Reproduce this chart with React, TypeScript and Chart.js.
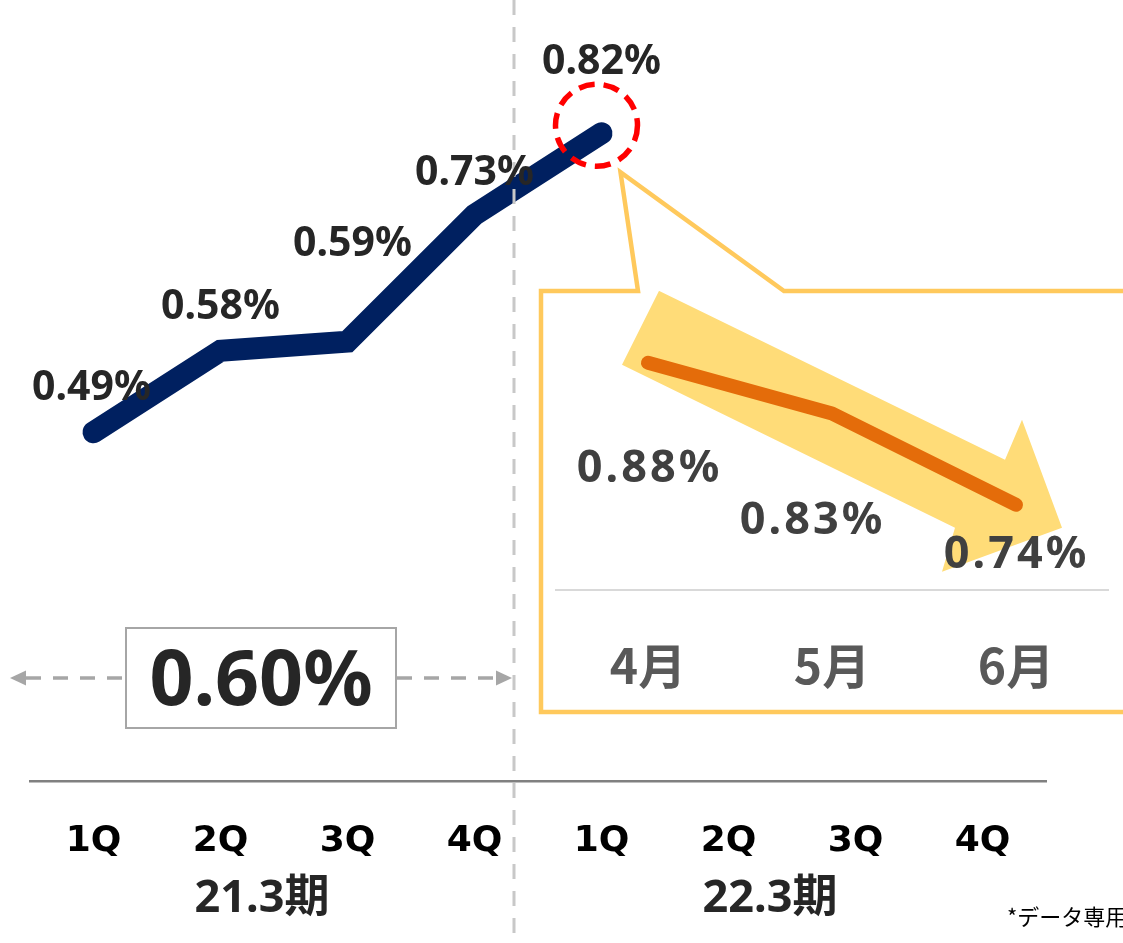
import React, { useEffect, useRef } from "react";
import { Chart, registerables } from "chart.js";

Chart.register(...registerables);

// ---- data ----
const quarterLabels = ["1Q", "2Q", "3Q", "4Q", "1Q", "2Q", "3Q", "4Q"];
const periodLabels = ["21.3期", "22.3期"];
const quarterlyRates: (number | null)[] = [0.49, 0.58, 0.59, 0.73, 0.82, null, null, null];
const averageRate = 0.6;
const monthLabels = ["4月", "5月", "6月"];
const monthlyRates = [0.88, 0.83, 0.74];
const footnote = "*データ専用";

// ---- styling / layout ----
const W = 1123;
const H = 943;
const NAVY = "#002060";
const ORANGE = "#E46C0A";
const CALLOUT = "#FFC95C";
const ARROW_FILL = "#FFDC78";
const MAIN_FONT = "'Noto Sans', 'Noto Sans CJK JP', sans-serif";
const CJK_FONT = "'Noto Sans CJK JP', 'Noto Sans', sans-serif";
const mainLabelOffsets = [
  [-2, -47],
  [0, -46],
  [5, -100],
  [0, -44],
  [0, -74],
];
const insetLabelOffsets = [
  [0, 103],
  [-21, 104],
  [-1, 47],
];
const INSET_BOX = { left: 541, top: 291, width: 582, height: 421 };
const DIVIDER_X = 514;
const AVG_BOX = { x1: 126, y1: 628, x2: 396, y2: 728 };

const fmt = (v: number) => v.toFixed(2) + "%";

function textCentered(ctx: CanvasRenderingContext2D, text: string, cx: number, cy: number, size: number, capRatio = 0.714) {
  ctx.textAlign = "center";
  ctx.textBaseline = "alphabetic";
  ctx.fillText(text, cx, cy + size * capRatio / 2);
}

const mainDecor = {
  id: "mainDecor",
  afterDatasetsDraw(chart: any) {
    const ctx: CanvasRenderingContext2D = chart.ctx;
    const xs = chart.scales.x;
    const ys = chart.scales.y;
    ctx.save();

    // vertical divider between periods
    ctx.strokeStyle = "#C8C8C8";
    ctx.lineWidth = 3;
    ctx.setLineDash([15, 12]);
    ctx.beginPath();
    ctx.moveTo(DIVIDER_X, 0);
    ctx.lineTo(DIVIDER_X, H);
    ctx.stroke();

    // red dashed circle around last value
    const lastIdx = quarterlyRates.reduce((a: number, v, i) => (v != null ? i : a), 0);
    const lx = xs.getPixelForValue(lastIdx);
    const ly = ys.getPixelForValue(quarterlyRates[lastIdx] as number);
    ctx.strokeStyle = "#FF0000";
    ctx.lineWidth = 5.5;
    ctx.setLineDash([16, 9]);
    ctx.beginPath();
    ctx.arc(lx - 5, ly - 8, 41, 0, Math.PI * 2);
    ctx.stroke();

    // callout outline
    ctx.setLineDash([]);
    ctx.strokeStyle = CALLOUT;
    ctx.lineWidth = 4.5;
    ctx.lineJoin = "miter";
    const tipX = lx + 19;
    const tipY = ly + 39;
    const bx = INSET_BOX.left;
    const by = INSET_BOX.top;
    const bb = INSET_BOX.top + INSET_BOX.height;
    ctx.beginPath();
    ctx.moveTo(W + 10, by);
    ctx.lineTo(784, by);
    ctx.lineTo(tipX, tipY);
    ctx.lineTo(638, by);
    ctx.lineTo(bx, by);
    ctx.lineTo(bx, bb);
    ctx.lineTo(W + 10, bb);
    ctx.stroke();

    // data labels
    ctx.fillStyle = "#262626";
    ctx.font = `bold 41px ${MAIN_FONT}`;
    quarterlyRates.forEach((v, i) => {
      if (v == null) return;
      const px = xs.getPixelForValue(i);
      const py = ys.getPixelForValue(v);
      const o = mainLabelOffsets[i] || [0, -46];
      textCentered(ctx, fmt(v), px + o[0], py + o[1], 41);
    });

    // period labels
    ctx.font = `bold 45px ${MAIN_FONT}`;
    ctx.fillStyle = "#262626";
    periodLabels.forEach((t, g) => {
      const cx = (xs.getPixelForValue(g * 4) + xs.getPixelForValue(g * 4 + 3)) / 2 - 22;
      textCentered(ctx, t, cx, 897, 42);
    });

    // average box
    ctx.strokeStyle = "#A6A6A6";
    ctx.lineWidth = 2;
    ctx.strokeRect(AVG_BOX.x1, AVG_BOX.y1, AVG_BOX.x2 - AVG_BOX.x1, AVG_BOX.y2 - AVG_BOX.y1);
    ctx.fillStyle = "#262626";
    ctx.font = `bold 77px ${MAIN_FONT}`;
    const acx = (AVG_BOX.x1 + AVG_BOX.x2) / 2;
    const acy = (AVG_BOX.y1 + AVG_BOX.y2) / 2 + 1;
    textCentered(ctx, fmt(averageRate), acx, acy, 74);

    // dashed arrows either side
    const ay = acy - 1;
    ctx.strokeStyle = "#A6A6A6";
    ctx.fillStyle = "#A6A6A6";
    ctx.lineWidth = 3.5;
    ctx.setLineDash([15, 12]);
    ctx.beginPath();
    ctx.moveTo(AVG_BOX.x1 - 4, ay);
    ctx.lineTo(24, ay);
    ctx.moveTo(AVG_BOX.x2 + 1, ay);
    ctx.lineTo(497, ay);
    ctx.stroke();
    ctx.setLineDash([]);
    ctx.beginPath();
    ctx.moveTo(10, ay);
    ctx.lineTo(26, ay - 7.5);
    ctx.lineTo(26, ay + 7.5);
    ctx.closePath();
    ctx.fill();
    ctx.beginPath();
    ctx.moveTo(512, ay);
    ctx.lineTo(496, ay - 7.5);
    ctx.lineTo(496, ay + 7.5);
    ctx.closePath();
    ctx.fill();

    // footnote
    ctx.fillStyle = "#000000";
    ctx.font = `22px ${CJK_FONT}`;
    ctx.textAlign = "left";
    ctx.textBaseline = "alphabetic";
    ctx.fillText(footnote, 1007, 925);

    ctx.restore();
  },
};

const insetDecor = {
  id: "insetDecor",
  beforeDatasetsDraw(chart: any) {
    const ctx: CanvasRenderingContext2D = chart.ctx;
    const xs = chart.scales.x;
    const ys = chart.scales.y;
    const n = monthlyRates.length - 1;
    const p0 = [xs.getPixelForValue(0), ys.getPixelForValue(monthlyRates[0])];
    const p2 = [xs.getPixelForValue(n), ys.getPixelForValue(monthlyRates[n])];
    const pts = [
      [p0[0] + 11, p0[1] - 72],
      [p2[0] - 11, p2[1] - 45],
      [p2[0] + 6, p2[1] - 85],
      [p2[0] + 46, p2[1] + 23],
      [p2[0] - 74, p2[1] + 67],
      [p2[0] - 61, p2[1] + 23],
      [p0[0] - 26, p0[1] + 2],
    ];
    ctx.save();
    ctx.fillStyle = ARROW_FILL;
    ctx.beginPath();
    pts.forEach((p, i) => (i === 0 ? ctx.moveTo(p[0], p[1]) : ctx.lineTo(p[0], p[1])));
    ctx.closePath();
    ctx.fill();
    ctx.restore();
  },
  afterDatasetsDraw(chart: any) {
    const ctx: CanvasRenderingContext2D = chart.ctx;
    const xs = chart.scales.x;
    const ys = chart.scales.y;
    ctx.save();
    ctx.fillStyle = "#404040";
    ctx.font = `bold 45px ${MAIN_FONT}`;
    (ctx as any).letterSpacing = "3px";
    monthlyRates.forEach((v, i) => {
      const o = insetLabelOffsets[i];
      textCentered(ctx, fmt(v), xs.getPixelForValue(i) + o[0] + 1.5, ys.getPixelForValue(v) + o[1], 45);
    });
    ctx.restore();
  },
};

export default function App() {
  const mainRef = useRef<HTMLCanvasElement>(null);
  const insetRef = useRef<HTMLCanvasElement>(null);

  useEffect(() => {
    document.body.style.margin = "0";
    const main = new Chart(mainRef.current!, {
      type: "line",
      data: {
        labels: quarterLabels,
        datasets: [
          {
            data: quarterlyRates,
            borderColor: NAVY,
            borderWidth: 22,
            borderCapStyle: "round",
            borderJoinStyle: "miter",
            pointRadius: 0,
            tension: 0,
            spanGaps: false,
          },
        ],
      },
      options: {
        animation: false,
        responsive: false,
        maintainAspectRatio: false,
        layout: { padding: { left: 30, right: 77, top: 11, bottom: 0 } },
        plugins: { legend: { display: false }, tooltip: { enabled: false } },
        scales: {
          x: {
            offset: true,
            grid: { display: false, drawTicks: false },
            border: { display: true, color: "#808080", width: 2.5 },
            ticks: {
              color: "#000000",
              font: { family: "'DejaVu Sans'", weight: "bold", size: 36 },
              padding: 39,
              maxRotation: 0,
              autoSkip: false,
            },
            afterFit: (s: any) => {
              s.height = 162;
            },
          },
          y: { display: false, min: 0.105, max: 0.955 },
        },
      },
      plugins: [mainDecor],
    } as any);

    const inset = new Chart(insetRef.current!, {
      type: "line",
      data: {
        labels: monthLabels,
        datasets: [
          {
            data: monthlyRates,
            borderColor: ORANGE,
            borderWidth: 14,
            borderCapStyle: "round",
            borderJoinStyle: "round",
            pointRadius: 0,
            tension: 0,
          },
        ],
      },
      options: {
        animation: false,
        responsive: false,
        maintainAspectRatio: false,
        layout: { padding: { left: 15, right: 15, top: 11, bottom: 0 } },
        plugins: { legend: { display: false }, tooltip: { enabled: false } },
        scales: {
          x: {
            offset: true,
            grid: { display: false, drawTicks: false },
            border: { display: true, color: "#D9D9D9", width: 2 },
            ticks: {
              color: "#595959",
              font: { family: CJK_FONT, weight: "bold", size: 48 },
              padding: 47,
              maxRotation: 0,
            },
            afterFit: (s: any) => {
              s.height = 122;
            },
          },
          y: { display: false, min: 0.656, max: 0.94 },
        },
      },
      plugins: [insetDecor],
    } as any);

    return () => {
      main.destroy();
      inset.destroy();
    };
  }, []);

  return (
    <div style={{ position: "relative", width: W, height: H, overflow: "hidden", background: "#ffffff" }}>
      <canvas ref={mainRef} width={W} height={H} style={{ position: "absolute", left: 0, top: 0, width: W, height: H }} />
      <canvas
        ref={insetRef}
        width={INSET_BOX.width}
        height={INSET_BOX.height}
        style={{
          position: "absolute",
          left: INSET_BOX.left,
          top: INSET_BOX.top,
          width: INSET_BOX.width,
          height: INSET_BOX.height,
        }}
      />
    </div>
  );
}
